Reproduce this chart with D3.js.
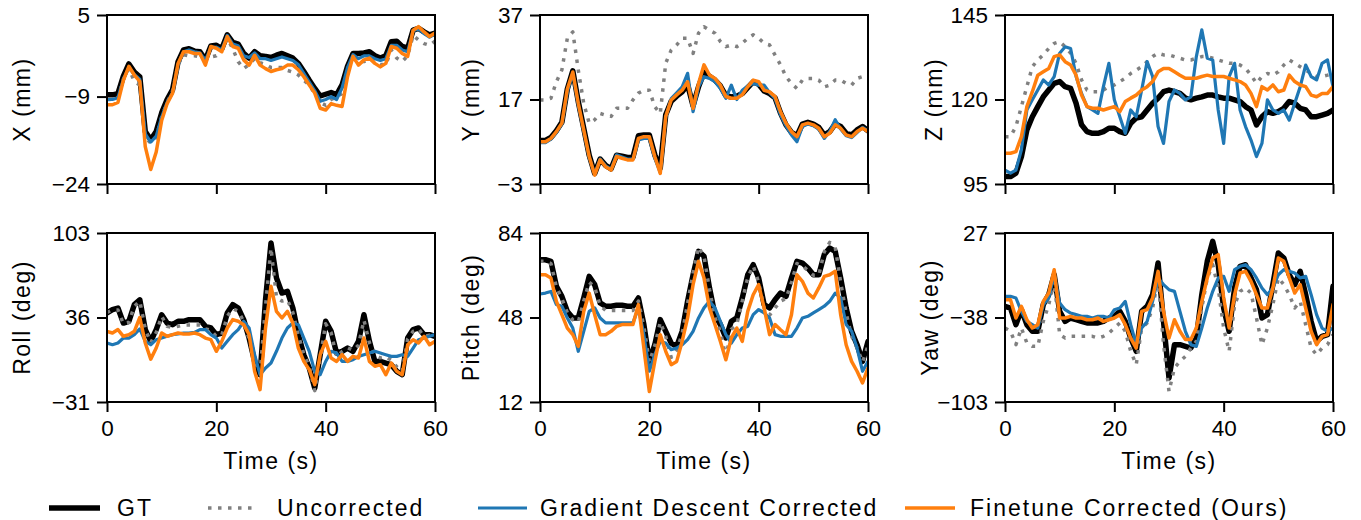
<!DOCTYPE html>
<html>
<head>
<meta charset="utf-8">
<script src="https://cdn.jsdelivr.net/npm/d3@7"></script>
<style>
  body { margin: 0; background: #fff; }
  svg text { font-family: "Liberation Sans", Arial, sans-serif; font-size: 23px; letter-spacing: 1.5px; fill: #000; }
  svg .tick text { font-size: 22.5px; letter-spacing: 0; }
  svg .legend text { letter-spacing: 2px; }
</style>
</head>
<body>
<svg id="fig" width="1361" height="520"></svg>
<script>
// sample times (s)
const time = [0,1,2,3,4,5,6,7,8,9,10,11,12,13,14,15,16,17,18,19,20,21,22,23,24,25,26,27,28,29,30,
  31,32,33,34,35,36,37,38,39,40,41,42,43,44,45,46,47,48,49,50,51,52,53,54,55,56,57,58,59,60];
const timeTicks = [0, 20, 40, 60];

const seriesNames = ["GT", "Uncorrected", "Gradient Descent Corrected", "Finetune Corrected (Ours)"];

// X (mm)
const xTicks = [-24, -9, 5];
const xGT  = [-8.7,-8.7,-8.5,-5.5,-3.4,-4.8,-5.6,-15.0,-16.4,-15.0,-11.8,-9.5,-7.8,-3.0,-1.0,-0.8,-1.2,-1.3,-2.7,-0.3,-0.2,-0.8,1.6,0.3,0.0,-1.6,-2.4,-1.3,-2.0,-2.1,-2.3,-1.9,-1.6,-2.0,-2.4,-3.3,-4.7,-6.2,-7.6,-8.9,-8.6,-8.3,-8.7,-7.0,-3.8,-1.6,-1.6,-1.5,-1.3,-2.0,-2.4,-2.0,0.4,0.5,-0.4,-0.7,2.4,2.7,2.1,1.6,1.9];
const xUnc = [-9.5,-9.5,-9.3,-6.0,-4.2,-6.4,-7.0,-16.0,-17.0,-16.0,-12.5,-10.0,-8.0,-3.5,-1.8,-2.0,-2.0,-2.2,-2.5,-2.2,-2.0,-1.0,1.0,-0.8,-3.0,-4.2,-3.5,-2.5,-3.2,-3.5,-4.0,-4.0,-4.0,-4.5,-4.8,-5.3,-6.2,-7.0,-8.5,-10.0,-10.5,-9.5,-9.0,-8.5,-4.5,-2.5,-3.0,-3.0,-2.5,-3.0,-3.5,-3.5,-1.0,-2.4,-3.0,-2.0,1.5,0.7,0.1,-0.2,0.5];
const xGD  = [-9.5,-9.5,-9.2,-6.0,-4.0,-5.2,-6.0,-15.4,-16.8,-15.8,-12.5,-10.0,-8.3,-3.5,-1.3,-1.0,-1.3,-1.5,-2.8,-0.6,-0.5,-1.0,1.5,0.0,-0.3,-2.0,-2.3,-1.5,-2.5,-2.5,-2.8,-2.5,-2.2,-2.5,-2.8,-3.5,-5.0,-6.5,-8.0,-9.8,-9.5,-9.0,-9.5,-7.5,-4.0,-1.8,-2.5,-2.0,-2.0,-2.5,-2.8,-2.5,-0.2,-0.2,-1.0,-1.3,2.3,2.6,1.8,1.2,1.7];
const xFT  = [-10.4,-10.4,-10.0,-6.2,-3.8,-5.3,-6.4,-17.6,-21.5,-18.5,-13.1,-10.2,-8.4,-3.3,-1.3,-1.3,-1.6,-1.6,-3.6,-0.4,-0.7,-1.3,1.3,-0.4,-0.7,-2.7,-3.6,-1.9,-3.6,-4.2,-4.7,-4.4,-4.2,-3.6,-3.6,-4.4,-5.6,-7.0,-8.4,-11.0,-11.3,-10.2,-10.5,-10.7,-5.6,-2.1,-3.6,-2.7,-2.4,-3.3,-3.9,-3.3,-0.4,-0.7,-1.6,-2.1,2.4,3.0,2.1,1.3,1.9];

// Y (mm)
const yTicks = [-3, 17, 37];
const yGT  = [7.3,7.3,8.0,9.6,11.6,19.5,23.8,16.5,10.2,3.8,-0.5,2.9,1.4,0.6,3.8,3.6,3.3,3.3,8.4,8.6,8.6,3.9,0.8,13.4,16.6,17.8,18.8,20.5,15.5,20.0,23.4,22.5,21.6,20.2,17.9,17.6,17.8,18.4,19.8,21.2,20.6,19.0,18.4,17.4,13.8,11.0,9.2,8.4,11.2,11.6,11.2,10.4,8.6,9.4,11.2,10.6,9.0,8.6,9.8,10.6,9.6];
const yUnc = [16.9,16.9,17.3,21.2,24.0,31.5,33.0,24.0,16.1,11.4,12.2,13.7,13.3,13.0,14.9,14.9,14.9,16.9,18.5,19.2,19.2,15.3,13.7,25.6,28.7,29.9,31.5,31.5,27.9,32.7,34.2,33.4,32.7,30.7,29.5,29.9,29.5,30.3,31.5,32.3,31.5,30.3,29.9,27.5,25.2,22.4,20.8,19.6,21.6,22.0,22.0,21.6,20.0,20.4,21.6,21.6,20.8,20.4,22.0,22.4,22.4];
const yGD  = [6.8,6.8,7.6,9.2,11.2,18.8,23.2,15.8,9.6,3.3,-0.6,2.9,1.3,0.5,3.9,3.4,2.9,2.9,7.4,7.8,7.8,3.1,-0.3,12.8,17.2,18.6,20.0,23.2,14.1,20.0,22.4,22.0,21.2,19.6,17.3,20.4,17.0,19.2,20.2,20.8,20.4,20.4,18.6,17.2,13.4,10.8,8.6,7.0,10.6,11.2,10.8,10.0,7.8,9.4,12.2,10.0,8.4,8.0,9.2,10.4,9.6];
const yFT  = [7.0,7.0,7.8,9.4,11.4,19.5,23.5,16.1,9.8,3.5,-0.9,2.7,1.1,0.3,3.5,3.1,2.7,2.7,7.8,8.2,8.2,3.5,-0.5,13.0,16.9,18.1,19.2,21.2,14.9,20.8,25.2,22.8,22.0,20.4,17.7,17.3,17.3,18.1,20.0,21.6,21.2,19.2,18.8,17.7,14.1,11.4,9.4,8.2,11.0,11.4,11.0,10.2,8.2,9.0,11.0,10.2,8.6,8.2,9.4,10.2,9.4];

// Z (mm)
const zTicks = [95, 120, 145];
const zGT  = [97.2,97.2,98.2,103.1,111.0,114.9,117.9,120.8,122.8,124.8,125.3,123.8,123.3,118.9,112.5,110.5,110.0,110.0,110.5,111.5,111.5,110.5,110.0,113.0,114.5,114.9,116.9,118.9,120.4,122.3,122.8,122.3,121.8,120.4,119.9,120.4,120.8,121.3,121.3,120.8,120.4,120.4,119.9,119.4,117.9,116.9,112.5,114.9,116.4,115.9,116.4,117.4,119.4,118.9,117.4,116.9,114.9,114.9,115.4,115.9,116.9];
const zUnc = [109.0,109.0,112.0,117.9,123.8,129.7,131.7,133.2,135.1,136.6,137.1,135.6,133.7,130.7,125.8,122.8,122.3,122.3,122.8,123.8,124.3,125.3,126.3,127.7,128.7,129.7,131.2,132.7,133.7,133.2,133.2,132.7,132.2,131.7,131.7,132.2,132.7,132.7,132.2,131.7,131.2,130.7,130.7,130.2,129.2,127.2,124.8,126.8,127.7,127.2,128.2,130.2,131.7,130.7,129.7,128.7,127.7,126.8,126.8,127.2,127.7];
const zGD  = [99.1,98.2,99.1,105.1,116.9,119.9,122.8,125.8,124.3,126.8,133.7,135.6,135.1,126.8,121.8,117.9,116.9,115.9,123.8,130.7,119.9,114.9,110.0,116.9,114.9,122.8,131.2,126.8,112.0,107.0,119.4,122.8,121.8,119.9,120.8,132.7,140.6,132.2,131.7,116.9,107.0,126.8,130.7,116.9,112.0,108.0,103.1,107.0,119.9,116.9,115.9,116.9,113.9,118.9,123.8,130.2,126.8,125.8,130.7,131.7,123.8];
const zFT  = [104.1,104.1,104.6,109.0,117.9,122.3,127.2,128.2,129.2,132.7,133.2,131.2,130.2,127.2,121.3,117.9,117.4,117.4,116.9,117.4,117.9,116.4,119.4,120.4,121.3,122.8,123.8,125.3,128.2,129.2,129.2,128.2,127.2,126.3,126.3,126.3,126.8,127.2,126.8,126.8,126.8,126.3,125.8,125.3,124.3,121.8,117.9,123.8,122.8,124.3,122.3,122.8,127.2,125.3,124.3,123.8,121.3,120.8,121.8,121.8,123.8];

// Roll (deg)
const rollTicks = [-31, 36, 103];
const rollGT  = [39.6,42.2,43.5,31.6,33.0,46.2,50.0,26.4,17.1,26.4,38.2,31.6,30.3,33.0,33.0,34.3,34.3,34.3,29.0,27.7,22.4,23.7,39.6,46.2,43.5,34.3,19.7,1.2,-9.3,50.0,95.1,67.4,55.4,56.7,43.5,22.4,6.5,-4.0,-19.9,6.5,33.0,25.0,7.8,9.2,11.8,9.2,17.1,38.2,17.1,1.2,1.2,-0.1,-1.4,-6.7,-9.3,19.7,26.4,27.7,22.4,22.4,21.1];
const rollUnc = [40,42,42,31,32,45,49,27,16,24,37,29,28,29,30,30,30,30,27,26,21,22,37,43,41,33,19,2,-8,45,91,52,49,50,40,22,7,-3,-22,4,31,24,5,9,12,10,14,34,16,6,4,5,2,-3,-7,19,25,27,21,22,20];
const rollGD  = [15.8,14.4,15.8,19.7,19.7,22.4,27.0,17.1,14.4,18.4,19.7,21.1,22.4,22.9,23.7,23.7,24.2,26.4,26.4,22.4,19.7,11.8,17.1,22.4,26.4,33.0,27.7,6.5,-9.3,-4.0,-0.1,9.2,19.7,27.7,31.6,30.3,19.7,9.2,-6.7,-9.3,1.2,9.2,7.8,1.2,1.2,2.6,5.2,6.5,7.8,9.2,7.8,6.5,5.2,5.2,6.5,5.2,11.8,18.4,19.7,21.1,22.4];
const rollFT  = [25.0,23.7,26.4,21.1,22.4,25.0,36.0,15.8,3.0,11.8,23.7,21.1,22.4,23.7,22.9,22.9,23.7,22.4,19.7,18.4,9.2,17.1,27.7,34.3,33.0,30.3,22.4,-6.7,-21.2,27.7,60.7,40.9,35.6,40.9,31.6,11.8,1.2,-5.4,-17.2,6.5,17.1,3.9,1.2,6.5,1.2,5.2,3.9,19.7,1.2,-2.7,-1.4,-9.3,-0.1,-6.7,-9.3,14.4,18.4,15.8,21.1,14.4,17.1];

// Pitch (deg)
const pitchTicks = [12, 48, 84];
const pitchGT  = [72.6,72.6,71.9,61.3,57.0,50.6,47.8,47.8,56.3,65.5,62.0,54.2,52.8,52.8,53.2,53.2,52.8,52.8,56.3,45.0,29.3,36.4,47.1,42.1,37.1,35.7,42.1,54.9,66.2,76.2,74.1,60.6,49.2,45.0,39.3,46.4,47.8,56.3,66.2,70.5,64.8,53.5,52.1,55.6,58.4,57.0,64.8,71.9,71.2,69.1,66.2,66.2,74.8,77.6,76.2,64.8,52.1,42.1,36.4,29.3,37.8];
const pitchUnc = [72,72,71,61,56,50,47,46,55,63,61,53,51,51,51,51,51,51,55,44,29,36,46,40,31,34,41,54,67,78,74,60,48,42,31,43,45,55,65,70,63,52,49,52,55,56,63,71,70,68,66,66,76,80,78,63,50,40,35,29,36];
const pitchGD  = [58.0,58.4,59.1,53.5,52.8,47.8,43.5,33.6,42.1,50.6,52.1,47.8,45.7,45.7,45.7,45.7,45.7,45.7,52.1,40.7,25.1,32.2,37.8,37.1,34.3,35.0,36.4,38.6,42.1,47.8,52.1,54.9,52.1,46.4,40.7,37.1,40.7,43.5,44.2,49.2,51.4,50.0,47.8,40.7,40.0,40.0,40.0,43.5,47.8,48.5,50.0,51.4,52.8,54.9,58.4,56.3,45.0,42.1,35.0,25.1,29.3];
const pitchFT  = [66.2,66.2,64.8,54.9,49.2,43.5,40.7,35.7,50.6,58.4,49.2,40.7,40.7,42.1,44.2,45.0,45.0,45.0,53.5,35.0,16.5,29.3,40.7,33.6,27.9,29.3,37.8,47.8,62.0,71.9,64.8,52.1,45.0,37.8,30.0,39.3,43.5,37.8,50.6,57.7,62.0,52.1,40.7,45.0,42.8,40.7,49.2,66.2,63.4,58.4,56.3,60.6,65.5,66.2,67.7,49.2,36.4,29.3,25.1,20.1,26.5];

// Yaw (deg)
const yawTicks = [-103, -38, 27];
const yawGT  = [-29.4,-30.7,-43.5,-32.0,-43.5,-48.6,-48.6,-28.1,-20.4,-5.1,-33.3,-41.0,-38.4,-39.7,-41.0,-42.2,-42.2,-42.2,-41.0,-38.4,-37.1,-33.3,-41.0,-53.8,-64.0,-33.3,-29.4,-20.4,3.9,-41.0,-84.5,-58.9,-58.9,-60.2,-61.5,-53.8,-20.4,5.2,20.6,2.6,-30.7,-48.6,-15.3,1.4,2.6,-7.6,-16.6,-38.4,-35.8,-12.7,11.6,7.8,-5.1,-12.7,-2.5,-20.4,-41.0,-56.3,-52.5,-51.2,-14.0];
const yawUnc = [-46.1,-48.6,-58.9,-46.1,-57.6,-60.2,-60.2,-41.0,-28.1,-10.2,-51.2,-53.8,-52.5,-52.5,-52.5,-52.5,-52.5,-53.8,-52.5,-50.0,-46.1,-42.2,-48.6,-64.0,-74.3,-46.1,-42.2,-30.7,-7.6,-58.9,-94.8,-76.8,-71.7,-67.9,-61.5,-56.3,-30.7,-7.6,2.6,-15.3,-46.1,-64.0,-28.1,-17.9,-15.3,-19.2,-38.4,-58.9,-46.1,-28.1,-7.6,-12.7,-20.4,-30.7,-25.6,-43.5,-61.5,-66.6,-61.5,-58.9,-51.2];
const yawGD  = [-21.7,-21.7,-23.0,-33.3,-41.0,-43.5,-46.1,-28.1,-23.0,-5.1,-26.8,-32.0,-34.6,-35.8,-37.1,-37.1,-38.4,-37.1,-37.1,-38.4,-32.0,-30.7,-25.6,-43.5,-58.9,-46.1,-41.0,-25.6,-7.6,-12.7,-16.6,-17.9,-33.3,-48.6,-58.9,-60.2,-46.1,-30.7,-17.9,-7.6,-6.3,-17.9,-1.2,1.4,2.6,-1.2,-7.6,-15.3,-20.4,-15.3,-5.1,-1.2,-2.5,-3.8,-7.6,-6.3,-20.4,-35.8,-46.1,-48.6,-46.1];
const yawFT  = [-24.3,-24.3,-38.4,-29.4,-39.7,-46.1,-43.5,-25.6,-19.2,-1.2,-38.4,-38.4,-37.1,-38.4,-38.4,-39.7,-39.7,-38.4,-41.0,-39.7,-38.4,-35.8,-43.5,-53.8,-61.5,-33.3,-32.0,-23.0,-2.5,-33.3,-53.8,-39.7,-48.6,-55.0,-55.0,-46.1,-25.6,-7.6,7.8,10.3,-23.0,-46.1,-20.4,-3.8,-2.5,-10.2,-20.4,-30.7,-30.7,-15.3,7.8,5.2,-7.6,-19.2,-12.7,-30.7,-48.6,-58.9,-52.5,-51.2,-28.1];

const panels = [
  { label: "X (mm)",      ticks: xTicks,     series: [xGT, xUnc, xGD, xFT],                 row: 0, col: 0, lab: 22 },
  { label: "Y (mm)",      ticks: yTicks,     series: [yGT, yUnc, yGD, yFT],                 row: 0, col: 1, lab: 471 },
  { label: "Z (mm)",      ticks: zTicks,     series: [zGT, zUnc, zGD, zFT],                 row: 0, col: 2, lab: 934 },
  { label: "Roll (deg)",  ticks: rollTicks,  series: [rollGT, rollUnc, rollGD, rollFT],     row: 1, col: 0, lab: 22 },
  { label: "Pitch (deg)", ticks: pitchTicks, series: [pitchGT, pitchUnc, pitchGD, pitchFT], row: 1, col: 1, lab: 471 },
  { label: "Yaw (deg)",   ticks: yawTicks,   series: [yawGT, yawUnc, yawGD, yawFT],         row: 1, col: 2, lab: 930 }
];

// layout
const cols = [{ x0: 107, x1: 435 }, { x0: 540, x1: 868 }, { x0: 1005, x1: 1333 }];
const rows = [{ y0: 15, y1: 184 }, { y0: 233, y1: 402 }];
const styles = [
  { color: "#000000", width: 5.5, dash: null },
  { color: "#808080", width: 3.5, dash: "3.5,6.5" },
  { color: "#1f77b4", width: 3.2, dash: null },
  { color: "#ff7f0e", width: 3.5, dash: null }
];

const svg = d3.select("#fig");

panels.forEach((p, i) => {
  const c = cols[p.col], r = rows[p.row];
  const x = d3.scaleLinear().domain([0, 60]).range([c.x0, c.x1]);
  const y = d3.scaleLinear().domain([p.ticks[0], p.ticks[2]]).range([r.y1, r.y0]);
  const g = svg.append("g");

  g.append("clipPath").attr("id", "clip" + i)
    .append("rect").attr("x", c.x0).attr("y", r.y0).attr("width", c.x1 - c.x0).attr("height", r.y1 - r.y0);

  const line = d3.line().x((d, j) => x(time[j])).y(d => y(d));

  g.append("g").attr("clip-path", `url(#clip${i})`)
    .selectAll("path")
    .data(p.series)
    .join("path")
    .attr("fill", "none")
    .attr("stroke", (d, k) => styles[k].color)
    .attr("stroke-width", (d, k) => styles[k].width)
    .attr("stroke-dasharray", (d, k) => styles[k].dash)
    .attr("stroke-linejoin", "round")
    .attr("stroke-linecap", (d, k) => styles[k].dash ? "butt" : "round")
    .attr("d", line);

  const yAxis = g.append("g")
    .attr("transform", `translate(${c.x0},0)`)
    .call(d3.axisLeft(y).tickValues(p.ticks).tickSize(10).tickPadding(7).tickFormat(d3.format("d")));
  const xAxis = g.append("g")
    .attr("transform", `translate(0,${r.y1})`)
    .call(d3.axisBottom(x).tickValues(timeTicks).tickSize(10).tickPadding(8)
      .tickFormat(p.row === 1 ? d3.format("d") : () => ""));
  [yAxis, xAxis].forEach(a => {
    a.attr("font-size", null).attr("font-family", null);
    a.select(".domain").remove();
    a.selectAll(".tick line").attr("stroke", "#000").attr("stroke-width", 2);
  });

  g.append("rect")
    .attr("x", c.x0).attr("y", r.y0)
    .attr("width", c.x1 - c.x0).attr("height", r.y1 - r.y0)
    .attr("fill", "none").attr("stroke", "#000").attr("stroke-width", 2);

  g.append("text")
    .attr("transform", `translate(${p.lab},${(r.y0 + r.y1) / 2}) rotate(-90)`)
    .attr("text-anchor", "middle")
    .attr("dy", "0.35em")
    .text(p.label);

  if (p.row === 1) {
    g.append("text")
      .attr("x", (c.x0 + c.x1) / 2).attr("y", 469)
      .attr("text-anchor", "middle")
      .text("Time (s)");
  }
});

// legend (one row along the bottom)
const legendLine = [[49, 100], [208, 257], [478, 527], [905, 955]];
const legendText = [117, 277, 540, 970];
const leg = svg.append("g").attr("class", "legend");
leg.selectAll("line")
  .data(seriesNames)
  .join("line")
  .attr("x1", (d, k) => legendLine[k][0]).attr("x2", (d, k) => legendLine[k][1])
  .attr("y1", 508).attr("y2", 508)
  .attr("stroke", (d, k) => styles[k].color)
  .attr("stroke-width", (d, k) => styles[k].width)
  .attr("stroke-dasharray", (d, k) => styles[k].dash);
leg.selectAll("text")
  .data(seriesNames)
  .join("text")
  .attr("x", (d, k) => legendText[k]).attr("y", 516)
  .text(d => d);
</script>
</body>
</html>
